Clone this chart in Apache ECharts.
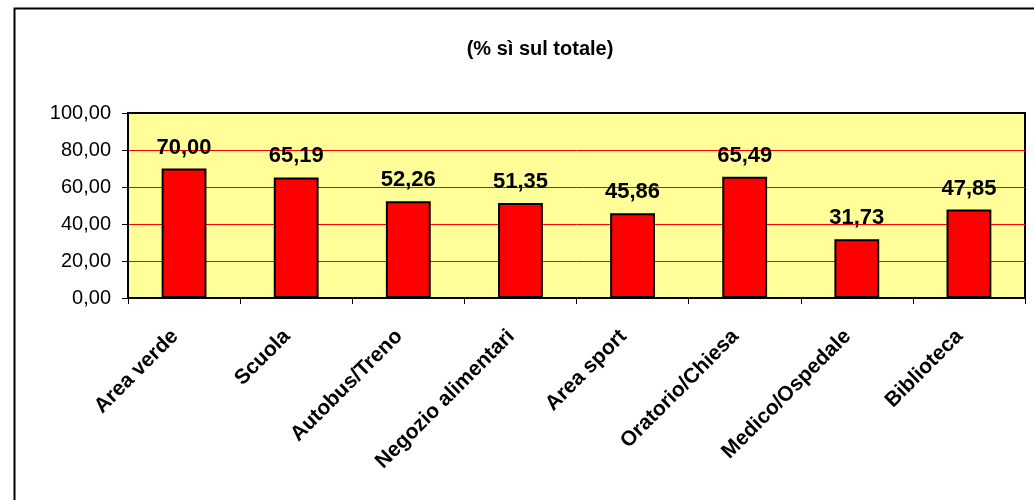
<!DOCTYPE html>
<html>
<head>
<meta charset="utf-8">
<script src="https://cdn.jsdelivr.net/npm/echarts@6/dist/echarts.min.js"></script>
<style>html,body{margin:0;padding:0;background:#fff}#c{width:1034px;height:500px}</style>
</head>
<body>
<div id="c"></div>
<script>
const titleText = '(% sì sul totale)';
const categories = ['Area verde','Scuola','Autobus/Treno','Negozio alimentari','Area sport','Oratorio/Chiesa','Medico/Ospedale','Biblioteca'];
const values = [70.00, 65.19, 52.26, 51.35, 45.86, 65.49, 31.73, 47.85];
const yMin = 0, yMax = 100, yStep = 20;

const FONT = 'Liberation Sans, Arial, sans-serif';
const fmt = v => Number(v).toFixed(2).replace('.', ',');
const chart = echarts.init(document.getElementById('c'), null, {renderer:'canvas'});
chart.setOption({
  animation:false,
  backgroundColor:'#fff',
  textStyle:{fontFamily:FONT},
  graphic:[{type:'rect',left:12,top:6,shape:{width:1100,height:600},style:{fill:'none',stroke:'#000',lineWidth:2},silent:true,z:-10}],
  title:{text:titleText,left:535,top:34,textAlign:'center',textStyle:{fontSize:20,fontWeight:'bold',color:'#000',fontFamily:FONT}},
  grid:{left:128,top:113,right:9,bottom:202,show:true,backgroundColor:'#FFFF99',borderColor:'#000',borderWidth:2,containLabel:false},
  xAxis:{type:'category',data:categories,boundaryGap:true,
    axisLine:{lineStyle:{color:'#000',width:2}},
    axisTick:{show:true,inside:false,length:6,interval:0,lineStyle:{color:'#000',width:1}},
    axisLabel:{interval:0,rotate:45,margin:26,padding:[0,13,0,0],color:'#000',fontSize:21,fontWeight:'bold',fontFamily:FONT}},
  yAxis:{type:'value',min:yMin,max:yMax,interval:yStep,
    axisLine:{show:true,lineStyle:{color:'#000',width:2}},
    axisTick:{show:true,length:6,lineStyle:{color:'#000',width:1}},
    splitLine:{show:true,showMinLine:false,showMaxLine:false,lineStyle:{color:'#FF0000',width:1}},
    axisLabel:{formatter:v=>fmt(v),margin:17,color:'#000',fontSize:20,fontFamily:FONT}},
  series:[{type:'bar',data:values,barWidth:'40%',
    itemStyle:{color:'#FF0000',borderColor:'#000',borderWidth:2},
    label:{show:true,position:'top',distance:10,formatter:p=>fmt(p.value),color:'#000',fontSize:22,fontWeight:'bold',fontFamily:FONT}}]
});
</script>
</body>
</html>
